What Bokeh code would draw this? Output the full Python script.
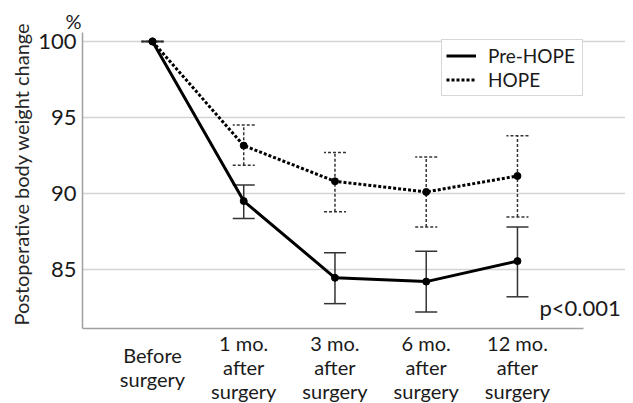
from bokeh.plotting import figure
from bokeh.models import (Range1d, FixedTicker, Whisker, TeeHead, ColumnDataSource,
                          Legend, LegendItem, Label, Title)
from bokeh.embed import file_html
from bokeh.resources import INLINE

# ---- data ----
timepoints = ["Before\nsurgery", "1 mo.\nafter\nsurgery", "3 mo.\nafter\nsurgery",
              "6 mo.\nafter\nsurgery", "12 mo.\nafter\nsurgery"]
x_pos = [0, 1, 2, 3, 4]
pre_hope_mean = [100, 89.5, 84.45, 84.2, 85.55]
pre_hope_upper = [100, 90.55, 86.1, 86.2, 87.8]
pre_hope_lower = [100, 88.35, 82.75, 82.2, 83.2]
hope_mean = [100, 93.15, 90.8, 90.1, 91.15]
hope_upper = [100, 94.5, 92.7, 92.4, 93.8]
hope_lower = [100, 91.85, 88.8, 87.8, 88.45]
y_ticks = [85, 90, 95, 100]
series_names = ["Pre-HOPE", "HOPE"]
p_value_text = "p<0.001"
y_title = "Postoperative body weight change"
y_unit = "%"

FONT = "Lato"
X0, X1 = -0.767, 4.724        # extent of the drawn axis / grid
Y0, Y1 = 81.12, 100.59        # extent of the y axis

pre_src = ColumnDataSource(dict(x=x_pos, y=pre_hope_mean, upper=pre_hope_upper, lower=pre_hope_lower))
hope_src = ColumnDataSource(dict(x=x_pos, y=hope_mean, upper=hope_upper, lower=hope_lower))

p = figure(width=625, height=403, output_backend="svg", toolbar_location=None,
           x_range=Range1d(X0, 5.184), y_range=Range1d(76.18, Y1),
           min_border_left=82, min_border_right=0, min_border_top=32, min_border_bottom=0)
p.outline_line_color = None
p.background_fill_color = "white"
p.border_fill_color = "white"

# "%" unit above the y axis
p.title.text = y_unit
p.title.align = "left"
p.title.offset = -17
p.title.standoff = 0
p.title.text_font = FONT
p.title.text_font_size = "20px"
p.title.text_font_style = "normal"
p.title.text_color = "#1a1a1a"

# grid
p.xgrid.grid_line_color = None
p.ygrid.grid_line_color = "#d4d4d4"
p.ygrid.grid_line_width = 1.5
p.ygrid.ticker = FixedTicker(ticks=y_ticks)
p.ygrid.bounds = (X0, X1)

# y axis
p.yaxis.ticker = FixedTicker(ticks=y_ticks)
p.yaxis.bounds = (Y0, Y1)
p.yaxis.major_tick_out = 0
p.yaxis.major_tick_in = 0
p.yaxis.major_tick_line_color = None
p.yaxis.minor_tick_line_color = None
p.yaxis.axis_line_color = "#a0a0a0"
p.yaxis.axis_line_width = 1.5
p.yaxis.major_label_text_font = FONT
p.yaxis.major_label_text_font_size = "22px"
p.yaxis.major_label_text_color = "#1a1a1a"
p.yaxis.major_label_standoff = 6

# y axis title, placed along the axis extent
ytitle = Title(text=y_title, align="right", offset=-10, standoff=6,
               text_font=FONT, text_font_size="20px", text_font_style="normal",
               text_color="#262626")
p.add_layout(ytitle, "left")

# x axis (line only, at the bottom of the data area; category labels drawn below)
p.xaxis.ticker = FixedTicker(ticks=[])
p.xaxis.fixed_location = Y0
p.xaxis.bounds = (X0, X1)
p.xaxis.major_tick_out = 0
p.xaxis.major_tick_in = 0
p.xaxis.major_label_standoff = 0
p.xaxis.major_tick_line_color = None
p.xaxis.minor_tick_line_color = None
p.xaxis.axis_line_color = "#a0a0a0"
p.xaxis.axis_line_width = 1.5
p.xaxis.major_label_text_font_size = "0px"

# error bars
pre_w = Whisker(source=pre_src, base="x", upper="upper", lower="lower",
                line_color="#333333", line_width=1.5,
                upper_head=TeeHead(size=22, line_color="#333333", line_width=1.5),
                lower_head=TeeHead(size=22, line_color="#333333", line_width=1.5))
hope_w = Whisker(source=hope_src, base="x", upper="upper", lower="lower",
                 line_color="#333333", line_width=1.5, line_dash="3 2",
                 upper_head=TeeHead(size=22, line_color="#333333", line_width=1.5, line_dash="3 2"),
                 lower_head=TeeHead(size=22, line_color="#333333", line_width=1.5, line_dash="3 2"))
p.add_layout(pre_w)
p.add_layout(hope_w)

# lines
r_hope = p.line("x", "y", source=hope_src, line_color="black", line_width=3, line_dash="3 2")
r_pre = p.line("x", "y", source=pre_src, line_color="black", line_width=3)
p.scatter("x", "y", source=hope_src, size=7, color="black")
p.scatter("x", "y", source=pre_src, size=7, color="black")

legend = Legend(items=[LegendItem(label=series_names[0], renderers=[r_pre]),
                       LegendItem(label=series_names[1], renderers=[r_hope])],
                location=(359, 307))
legend.label_text_font = FONT
legend.label_text_font_size = "19px"
legend.label_text_color = "#1a1a1a"
legend.glyph_width = 30
legend.glyph_height = 23
legend.label_height = 23
legend.label_width = 90
legend.label_standoff = 12
legend.padding = 4
legend.spacing = 1
legend.margin = 0
legend.border_line_color = "#b0b0b0"
legend.border_line_width = 1
legend.background_fill_alpha = 1
p.add_layout(legend)

# category labels below the axis
for xv, txt in zip(x_pos, timepoints):
    p.add_layout(Label(x=xv, y=78.55, text=txt, text_align="center", text_baseline="middle",
                       text_font=FONT, text_font_size="20px", text_color="#1a1a1a",
                       text_line_height=1.0))

p.add_layout(Label(x=4.241, y=82.5, text=p_value_text, text_align="left", text_baseline="middle",
                   text_font=FONT, text_font_size="22px", text_color="#1a1a1a"))

open("out.html", "w").write(file_html(p, INLINE))
